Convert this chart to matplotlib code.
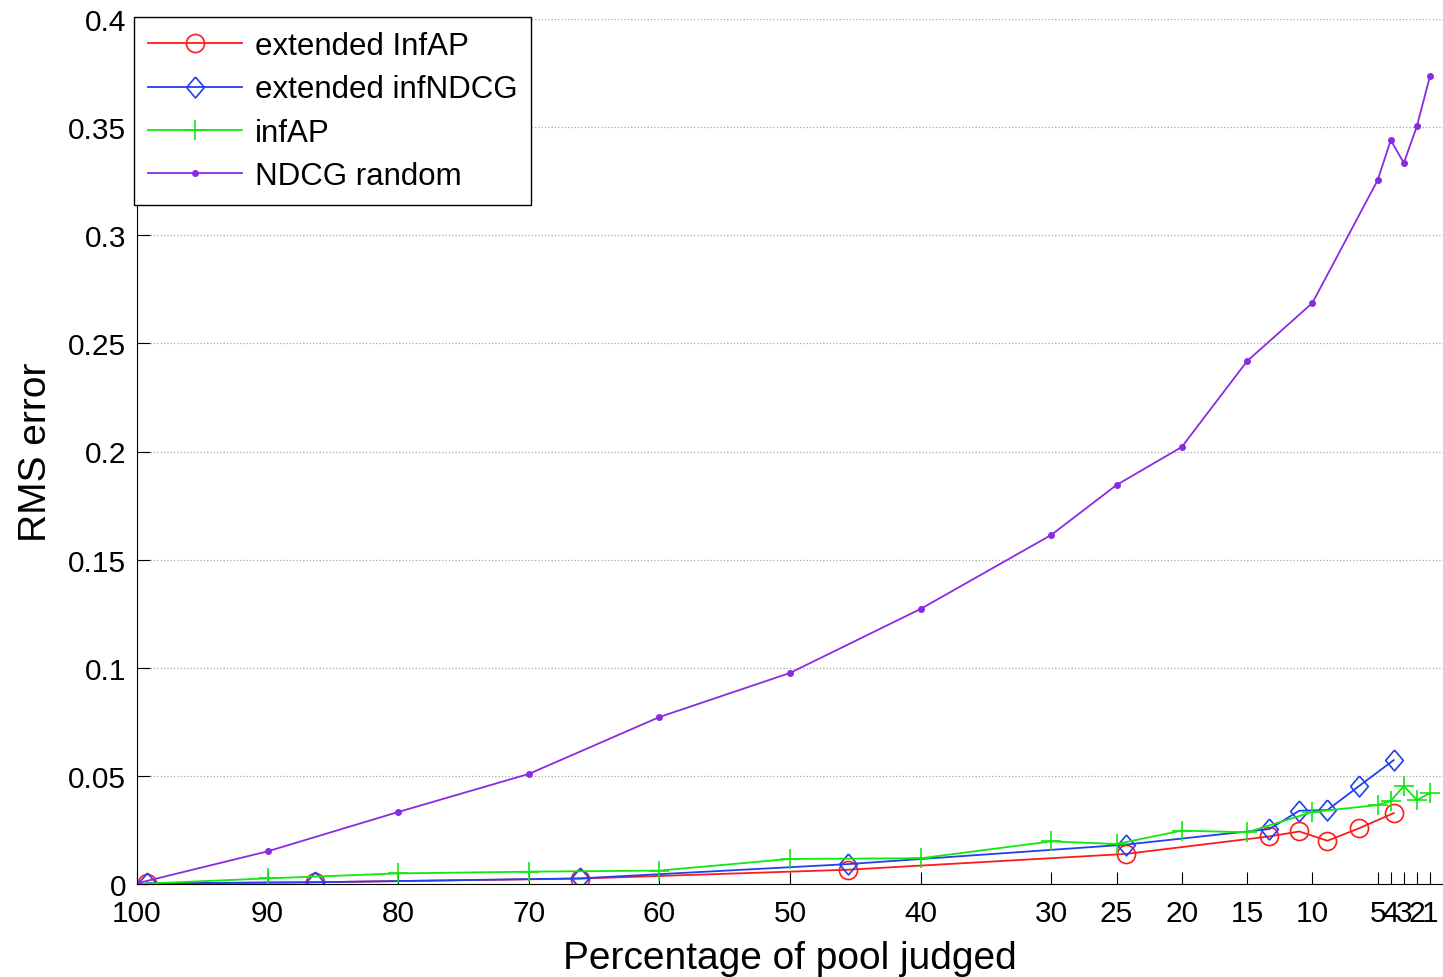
import matplotlib
matplotlib.use("Agg")
import matplotlib.pyplot as plt

plt.rcParams['font.family'] = ['Liberation Sans', 'DejaVu Sans']

# x positions (percentage of pool judged)
x_ext = [99.24, 86.4, 66.05, 45.55, 24.3, 13.3, 11.0, 8.85, 6.45, 3.77]
x_full = [100, 90, 80, 70, 60, 50, 40, 30, 25, 20, 15, 10, 5, 4, 3, 2, 1]

# RMS error per method
ext_infap = [0.0003, 0.0008, 0.0025, 0.0066, 0.0139, 0.0220, 0.0243, 0.0200, 0.0257, 0.0328]
ext_infndcg = [0.0003, 0.0008, 0.0026, 0.0092, 0.0182, 0.0254, 0.0339, 0.0342, 0.0452, 0.0573]
infap = [0.0, 0.0026, 0.0049, 0.0057, 0.0062, 0.0116, 0.0119, 0.0197, 0.0185,
         0.0247, 0.0239, 0.0333, 0.0365, 0.0384, 0.0453, 0.0388, 0.0420]
ndcg_random = [0.0003, 0.0151, 0.0333, 0.0509, 0.0772, 0.0976, 0.1272, 0.1614, 0.1845,
               0.2021, 0.2418, 0.2687, 0.3255, 0.3440, 0.3334, 0.3504, 0.3735]

xticks = [100, 90, 80, 70, 60, 50, 40, 30, 25, 20, 15, 10, 5, 4, 3, 2, 1]
yticks = [0, 0.05, 0.1, 0.15, 0.2, 0.25, 0.3, 0.35, 0.4]
ytick_labels = ["0", "0.05", "0.1", "0.15", "0.2", "0.25", "0.3", "0.35", "0.4"]

# matlab-style wide diamond
diamond = [(0, 1), (0.85, 0), (0, -1), (-0.85, 0), (0, 1)]

fig = plt.figure(figsize=(14.43, 9.78), dpi=100)
ax = fig.add_axes([137 / 1443, 1 - 885 / 978, 1306 / 1443, 865 / 978])

ax.plot(x_ext, ext_infap, color='#ff1a1a', lw=1.3, marker='o', ms=13,
        mfc='none', mew=1.2, label='extended InfAP')
ax.plot(x_ext, ext_infndcg, color='#2040f0', lw=1.3, marker=diamond, ms=15,
        mfc='none', mew=1.2, label='extended infNDCG')
ax.plot(x_full, infap, color='#10e810', lw=1.3, marker='+', ms=15,
        mew=1.2, label='infAP')
ax.plot(x_full, ndcg_random, color='#8a2be2', lw=1.3, marker='o', ms=4,
        label='NDCG random')

ax.set_xlim(100, 0)
ax.set_ylim(0, 0.4)
ax.set_xticks(xticks)
ax.set_xticklabels([str(t) for t in xticks])
ax.set_yticks(yticks)
ax.set_yticklabels(ytick_labels)
ax.tick_params(direction='in', length=9, labelsize=21.5, pad=8)
ax.tick_params(axis='x', pad=11)
ax.yaxis.grid(True, linestyle=':', color='#a8a8a8', lw=0.9)
ax.set_axisbelow(True)
for s in ['top', 'right']:
    ax.spines[s].set_visible(False)

ax.set_xlabel("Percentage of pool judged", fontsize=28, labelpad=9)
ax.set_ylabel("RMS error", fontsize=28, labelpad=10)

leg = ax.legend(loc='upper left', bbox_to_anchor=(-0.002, 1.002), borderaxespad=0,
                fontsize=22.5, fancybox=False, edgecolor='black',
                handlelength=3.0, handletextpad=0.4, labelspacing=0.42,
                borderpad=0.45, framealpha=1)
leg.get_frame().set_linewidth(1.0)

fig.savefig("out.png", dpi=100)
